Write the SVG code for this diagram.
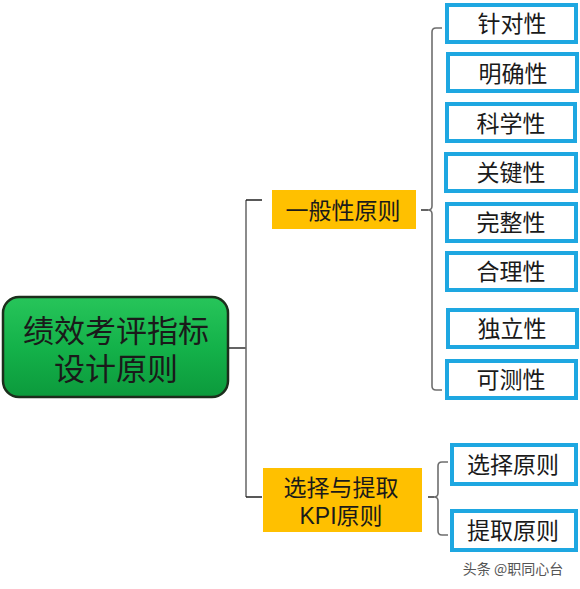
<svg xmlns="http://www.w3.org/2000/svg" width="580" height="589" viewBox="0 0 580 589">
<defs>
<linearGradient id="g" x1="0" y1="0" x2="0" y2="1">
<stop offset="0" stop-color="#27c55a"/>
<stop offset="0.5" stop-color="#14b24a"/>
<stop offset="1" stop-color="#0c9a3c"/>
</linearGradient>
<style>
text{font-family:"Noto Sans CJK SC","Liberation Sans",sans-serif;text-anchor:middle;dominant-baseline:central;fill:#1a1a1a}
text.two{font-family:"Liberation Sans","Noto Sans CJK SC",sans-serif}
.blue rect{fill:#fff;stroke:#1ea7e1;stroke-width:4}
.blue text{font-size:23px}
.org rect{fill:#ffc000}
.org text{font-size:23px}
.ln{fill:none;stroke:#6e6e6e;stroke-width:1.6}
.tk{fill:none;stroke:#222;stroke-width:1.4}
</style>
</defs>
<rect width="580" height="589" fill="#fff"/>
<g id="connectors">
<line class="tk" x1="229" y1="348" x2="246" y2="348"/>
<path class="ln" d="M246 200 V497"/>
<path class="tk" d="M246 200 H262 M246 497 H262"/>
<path class="ln" d="M442 28 H436 Q432 28 432 32 V206 Q432 210 428 210 Q432 210 432 214 V386 Q432 390 436 390 H442"/>
<path class="tk" d="M421 210 H428"/>
<path class="ln" d="M448 462 H442 Q438 462 438 466 V493 Q438 497 434 497 Q438 497 438 501 V531 Q438 535 442 535 H448"/>
<path class="tk" d="M428 497 H434"/>
</g>
<g id="main">
<rect x="3" y="297" width="225" height="100" rx="16" fill="url(#g)" stroke="#1c2e1c" stroke-width="2.5"/>
<text class="two" font-size="31"><tspan x="116" y="331">绩效考评指标</tspan><tspan x="116" y="369">设计原则</tspan></text>
</g>
<g id="general" class="org">
<rect x="272" y="190" width="144" height="39"/>
<text x="343" y="209">一般性原则</text>
</g>
<g id="kpi" class="org">
<rect x="263" y="468" width="159" height="64"/>
<text class="two"><tspan x="341" y="488">选择与提取</tspan><tspan x="341" y="516">KPI原则</tspan></text>
</g>
<g id="n1" class="blue"><rect x="447" y="5" width="129" height="37"/><text x="512" y="22">针对性</text></g>
<g id="n2" class="blue"><rect x="448" y="54" width="129" height="37"/><text x="513" y="72">明确性</text></g>
<g id="n3" class="blue"><rect x="447" y="104" width="128" height="37"/><text x="511" y="122">科学性</text></g>
<g id="n4" class="blue"><rect x="446" y="154" width="130" height="37"/><text x="511" y="171">关键性</text></g>
<g id="n5" class="blue"><rect x="447" y="204" width="129" height="37"/><text x="511" y="221">完整性</text></g>
<g id="n6" class="blue"><rect x="447" y="253" width="129" height="37"/><text x="511" y="270">合理性</text></g>
<g id="n7" class="blue"><rect x="448" y="310" width="129" height="37"/><text x="512" y="327">独立性</text></g>
<g id="n8" class="blue"><rect x="447" y="361" width="129" height="37"/><text x="511" y="378">可测性</text></g>
<g id="s1" class="blue"><rect x="452" y="445" width="124" height="39"/><text x="513" y="463">选择原则</text></g>
<g id="s2" class="blue"><rect x="452" y="511" width="124" height="39"/><text x="513" y="529">提取原则</text></g>
<text x="513" y="568" font-size="14" style="fill:#555">头条 @职同心台</text>
</svg>
